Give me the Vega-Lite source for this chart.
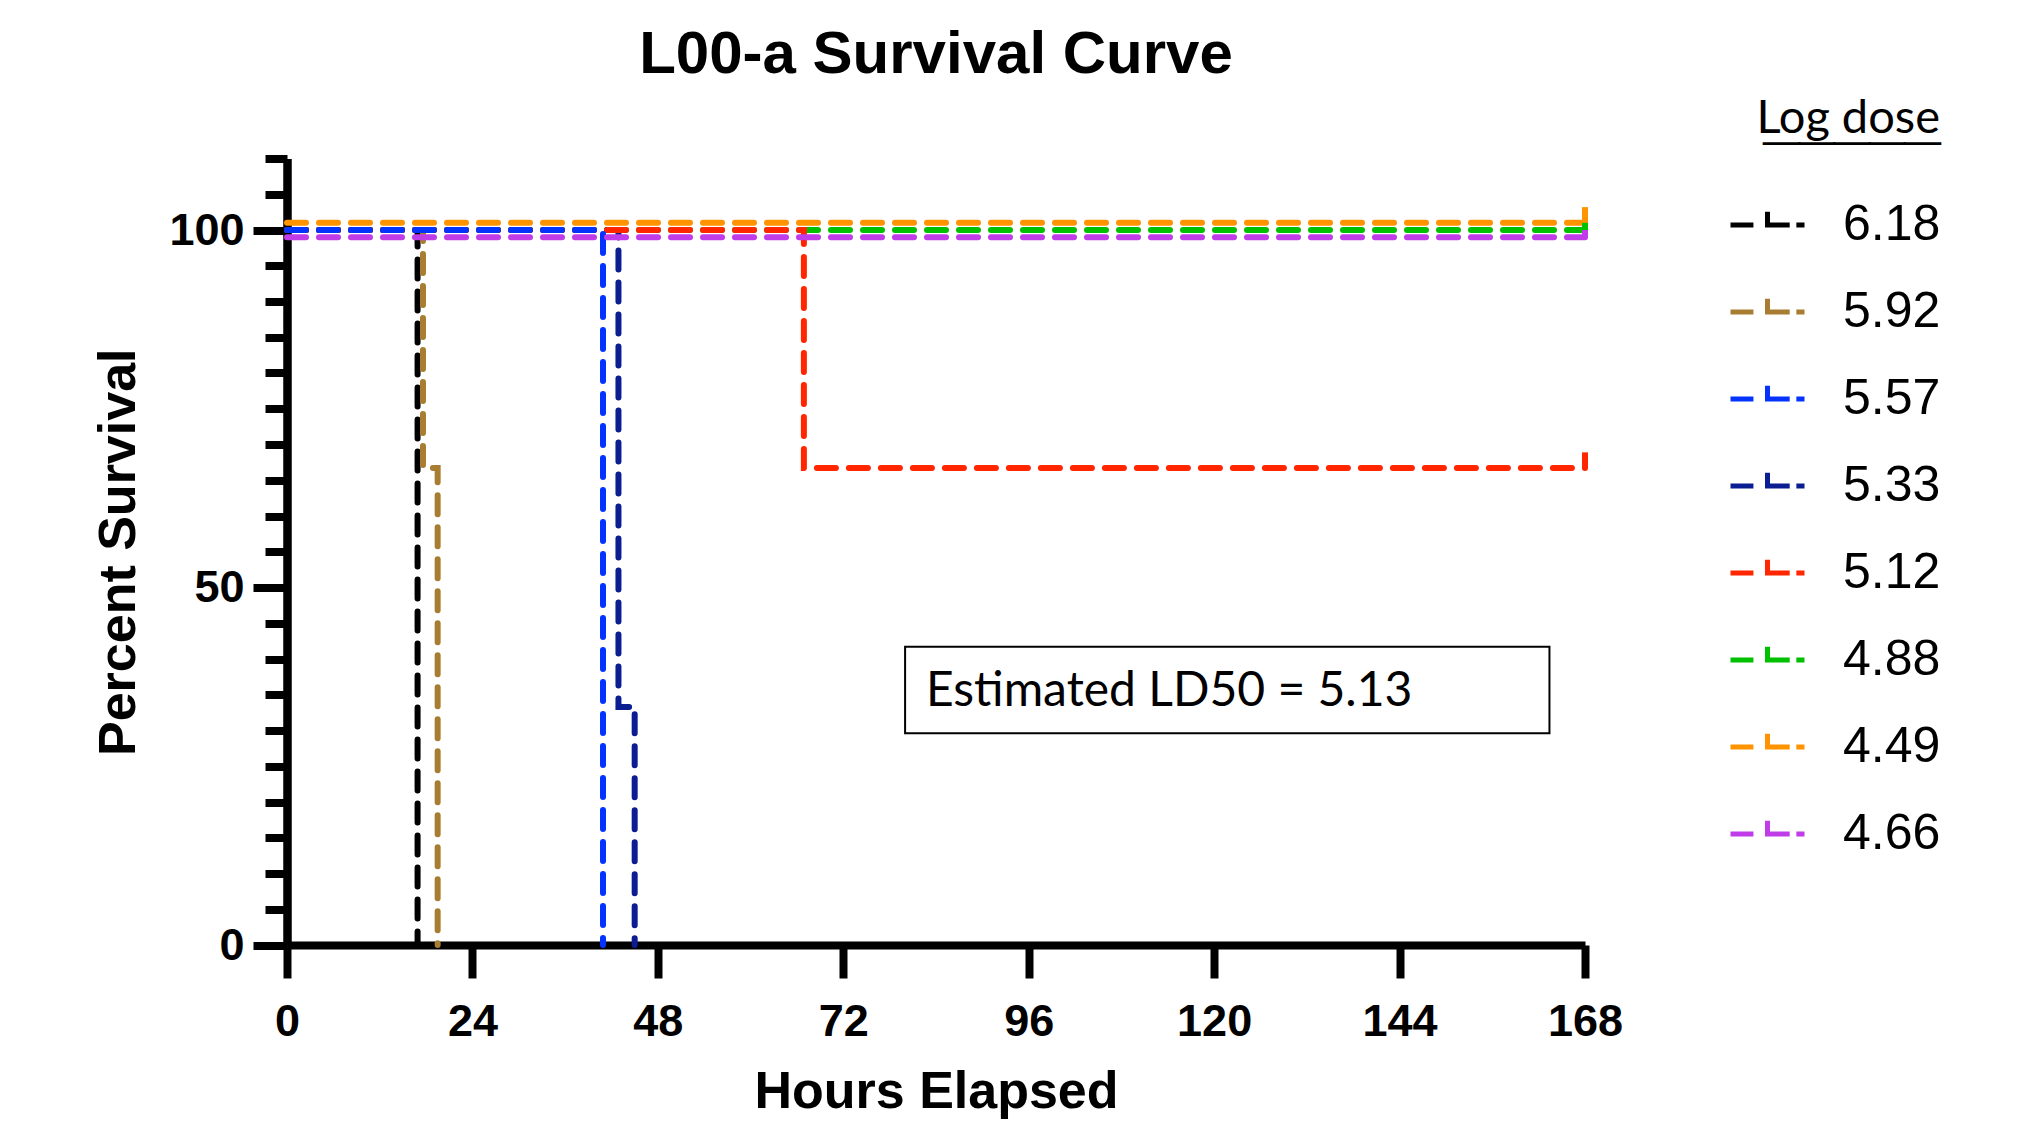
{
  "$schema": "https://vega.github.io/schema/vega-lite/v6.json",
  "width": 1298,
  "height": 786.5,
  "autosize": {"type": "none"},
  "padding": {"left": 287, "top": 158.5, "right": 432, "bottom": 191},
  "background": "white",
  "title": {"text": "L00-a Survival Curve", "font": "Liberation Sans", "fontSize": 60, "fontWeight": "bold", "color": "black", "anchor": "middle", "frame": "group", "offset": 10},
  "config": {
    "view": {"stroke": null},
    "axis": {"domainColor": "black", "domainWidth": 8, "tickColor": "black", "tickWidth": 8, "labelColor": "black", "labelFont": "Liberation Sans", "labelFontSize": 45, "labelFontWeight": "bold", "titleColor": "black", "titleFont": "Liberation Sans", "titleFontSize": 52, "titleFontWeight": "bold", "grid": false, "labelFlush": false, "labelOverlap": false}
  },
  "datasets": {
    "surv": [
      {"dose": "4.88", "t": 0, "s": 100}, {"dose": "4.88", "t": 168, "s": 100},
      {"dose": "6.18", "t": 0, "s": 100}, {"dose": "6.18", "t": 16.9, "s": 0},
      {"dose": "5.92", "t": 0, "s": 100}, {"dose": "5.92", "t": 17.6, "s": 66.7}, {"dose": "5.92", "t": 19.5, "s": 0},
      {"dose": "5.33", "t": 0, "s": 100}, {"dose": "5.33", "t": 42.9, "s": 33.3}, {"dose": "5.33", "t": 45, "s": 0},
      {"dose": "5.12", "t": 0, "s": 100}, {"dose": "5.12", "t": 66.9, "s": 66.7}, {"dose": "5.12", "t": 168, "s": 66.7},
      {"dose": "5.57", "t": 0, "s": 100}, {"dose": "5.57", "t": 40.9, "s": 0},
      {"dose": "4.49", "t": 0, "s": 101}, {"dose": "4.49", "t": 168, "s": 101},
      {"dose": "4.66", "t": 0, "s": 99}, {"dose": "4.66", "t": 168, "s": 99}
    ],
    "censored": [
      {"dose": "4.66", "t": 168, "s": 99, "s2": 101.2},
      {"dose": "4.88", "t": 168, "s": 100, "s2": 102.2},
      {"dose": "4.49", "t": 168, "s": 101, "s2": 103.2},
      {"dose": "5.12", "t": 168, "s": 66.7, "s2": 68.9}
    ],
    "note": [
      {"t1": 80, "t2": 163.4, "s1": 29.6, "s2": 41.7, "tx": 82.7, "sy": 35.4, "label": "Estimated LD50 = 5.13"}
    ]
  },
  "layer": [
    {
      "data": {"name": "note"},
      "mark": {"type": "rect", "fill": "transparent", "stroke": "black", "strokeWidth": 2},
      "encoding": {
        "x": {"field": "t1", "type": "quantitative", "scale": {"domain": [0, 168], "nice": false}},
        "x2": {"field": "t2"},
        "y": {"field": "s1", "type": "quantitative", "scale": {"domain": [0, 110], "nice": false}, "axis": null},
        "y2": {"field": "s2"}
      }
    },
    {
      "data": {"name": "note"},
      "mark": {"type": "text", "font": "Lato", "fontSize": 48, "align": "left", "baseline": "middle", "color": "black"},
      "encoding": {
        "x": {"field": "tx", "type": "quantitative"},
        "y": {"field": "sy", "type": "quantitative", "axis": null},
        "text": {"field": "label"}
      }
    },
    {
      "data": {"name": "surv"},
      "mark": {"type": "line", "interpolate": "step-after", "strokeWidth": 6, "strokeDash": [19, 13], "strokeCap": "round", "clip": false},
      "encoding": {
        "x": {"field": "t", "type": "quantitative", "scale": {"domain": [0, 168], "nice": false},
              "axis": {"title": "Hours Elapsed", "values": [0, 24, 48, 72, 96, 120, 144, 168], "tickSize": 33, "labelPadding": 21, "titlePadding": 22}},
        "y": {"field": "s", "type": "quantitative", "scale": {"domain": [0, 110], "nice": false},
              "axis": {"orient": "left", "title": "Percent Survival", "values": [0, 50, 100], "tickSize": 34, "labelPadding": 9, "titlePadding": 23}},
        "color": {
          "field": "dose", "type": "nominal",
          "scale": {"domain": ["6.18", "5.92", "5.57", "5.33", "5.12", "4.88", "4.49", "4.66"],
                    "range": ["#000000", "#A87D32", "#0433FF", "#0A1E91", "#FF2600", "#00C000", "#FF9300", "#C03CE8"]},
          "legend": {
            "orient": "none", "legendX": 1441, "legendY": -63,
            "title": ["Log dose", "─────"], "titleFont": "Lato", "titleFontSize": 47, "titleLineHeight": 25, "titleLimit": 600, "titleFontWeight": "normal", "titleColor": "black", "titleAnchor": "end", "titlePadding": 18,
            "symbolType": "M-1,0H-0.38M0,-0.36V0H0.6M0.78,0H1", "symbolSize": 5476, "symbolStrokeWidth": 5, "symbolFillColor": "transparent", "symbolDash": [],
            "labelFont": "Liberation Sans", "labelFontSize": 50, "labelColor": "black", "labelOffset": 36, "rowPadding": 22
          }
        }
      }
    },
    {
      "data": {"name": "censored"},
      "mark": {"type": "rule", "strokeWidth": 6, "clip": false},
      "encoding": {
        "x": {"field": "t", "type": "quantitative"},
        "y": {"field": "s", "type": "quantitative",
              "axis": {"orient": "left", "title": null, "values": [5, 10, 15, 20, 25, 30, 35, 40, 45, 50, 55, 60, 65, 70, 75, 80, 85, 90, 95, 100, 105, 110], "tickSize": 22, "labels": false}},
        "y2": {"field": "s2"},
        "color": {"field": "dose", "type": "nominal"}
      }
    }
  ],
  "resolve": {"axis": {"y": "independent"}}
}
